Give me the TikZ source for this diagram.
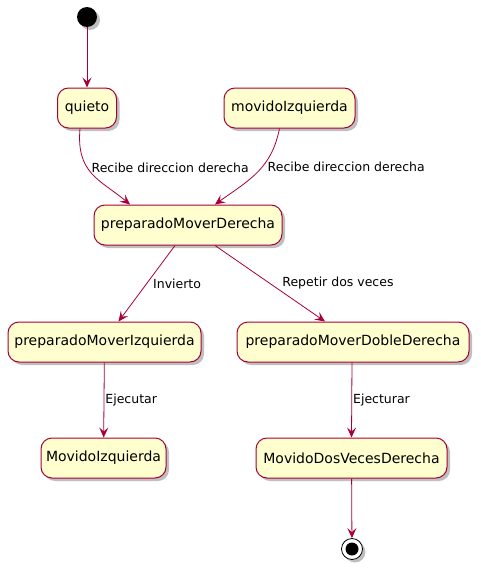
\documentclass[tikz,border=0pt]{standalone}
\usepackage{fontspec}
\setsansfont{DejaVu Sans}
\usetikzlibrary{arrows.meta,shadows}
\definecolor{umlred}{HTML}{A80036}
\definecolor{umlfill}{HTML}{FEFECE}

\begin{document}
\begin{tikzpicture}[x=1pt, y=-1pt,
    state/.style={draw=umlred, fill=umlfill, line width=1pt, rounded corners=11pt,
        minimum height=40pt, inner xsep=5pt, font=\sffamily\fontsize{14}{16}\selectfont,
        drop shadow={shadow xshift=3pt, shadow yshift=-3pt, fill=black, opacity=0.25}},
    trans/.style={draw=umlred, line width=0.8pt, -{Stealth[length=10pt, width=9pt, inset=4pt]}},
    lbl/.style={font=\sffamily\fontsize{12.5}{14}\selectfont, inner sep=1pt, anchor=west}]
    \useasboundingbox (0,0) rectangle (481,570);
    % start and end
    \node[circle, fill=black, minimum size=20pt, inner sep=0pt,
        drop shadow={shadow xshift=3pt, shadow yshift=-3pt, fill=black, opacity=0.25}] (start) at (87,17) {};
    \node[circle, draw=black, fill=white, line width=0.8pt, minimum size=21pt, inner sep=0pt,
        drop shadow={shadow xshift=3pt, shadow yshift=-3pt, fill=black, opacity=0.25}] (stop) at (352,549) {};
    \fill[black] (stop) circle (6.5pt);
    % states
    \node[state, minimum width=59pt] (quieto) at (87,108) {quieto};
    \node[state, minimum width=131pt] (movIzq) at (289.5,108) {movidoIzquierda};
    \node[state, minimum width=188pt] (prepDer) at (188,225) {preparadoMoverDerecha};
    \node[state, minimum width=193pt] (prepIzq) at (104.5,342) {preparadoMoverIzquierda};
    \node[state, minimum width=232pt] (prepDoble) at (353,342) {preparadoMoverDobleDerecha};
    \node[state, minimum width=125pt] (movidoIzq) at (103.5,458) {MovidoIzquierda};
    \node[state, minimum width=191pt] (movidoDos) at (351.5,458) {MovidoDosVecesDerecha};
    % transitions
    \draw[trans] (start) -- (quieto);
    \draw[trans] ([xshift=-7pt]quieto.south) .. controls +(-4,45) and +(-30,-25) .. ([xshift=-58pt]prepDer.north)
        node[lbl, pos=0.4, xshift=3pt] {Recibe direccion derecha};
    \draw[trans] ([xshift=-10pt]movIzq.south) .. controls +(-8,40) and +(35,-25) .. ([xshift=27pt]prepDer.north)
        node[lbl, pos=0.42, xshift=4pt] {Recibe direccion derecha};
    \draw[trans] ([xshift=-13pt]prepDer.south) -- ([xshift=14pt]prepIzq.north)
        node[lbl, midway, xshift=5pt] {Invierto};
    \draw[trans] ([xshift=27pt]prepDer.south) -- ([xshift=-28pt]prepDoble.north)
        node[lbl, midway, xshift=11pt] {Repetir dos veces};
    \draw[trans] (prepIzq) -- (movidoIzq)
        node[lbl, midway] {Ejecutar};
    \draw[trans] ([xshift=-1pt]prepDoble.south) -- (movidoDos.north)
        node[lbl, midway] {Ejecturar};
    \draw[trans] (movidoDos) -- (stop);
\end{tikzpicture}
\end{document}
